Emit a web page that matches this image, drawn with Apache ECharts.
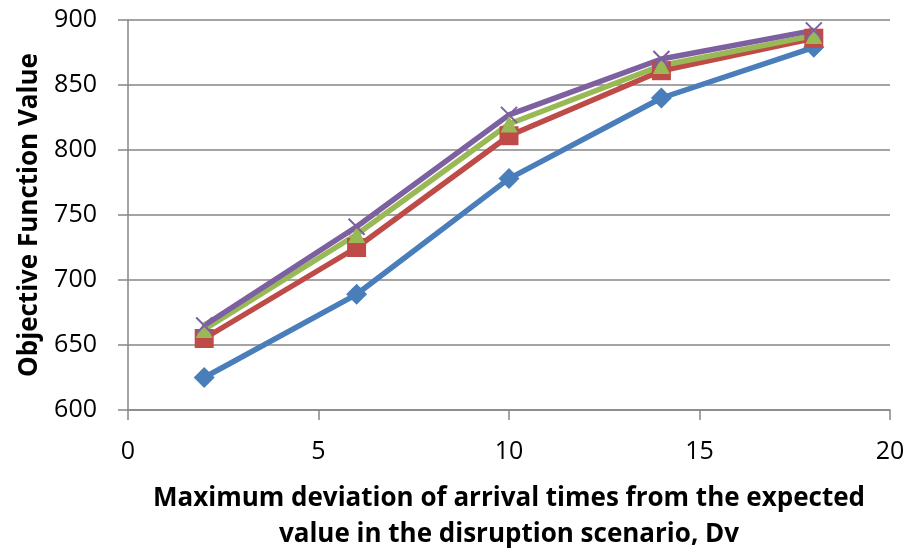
<!DOCTYPE html>
<html><head><meta charset="utf-8">
<script src="https://cdn.jsdelivr.net/npm/echarts@6/dist/echarts.min.js"></script>
<style>html,body{margin:0;padding:0;background:#fff}#c{width:907px;height:553px}</style>
</head><body><div id="c"></div>
<script>
const xValues = [2, 6, 10, 14, 18];
const seriesBlue = [625, 689, 778, 840, 879];
const seriesRed = [655, 725, 811, 861, 886];
const seriesGreen = [662, 735, 820, 865, 888];
const seriesPurple = [665, 741, 827, 870, 892];
const xTitle = 'Maximum deviation of arrival times from the expected\nvalue in the disruption scenario, Dv';
const yTitle = 'Objective Function Value';

const font = '"Open Sans", "Noto Sans", sans-serif';
function pairs(vals){ return xValues.map((x,i)=>[x, vals[i]]); }
function mk(name, vals, color, symbol, size, extra){
  return Object.assign({
    name, type:'line', data: pairs(vals), symbol, symbolSize: size,
    lineStyle:{color, width:5.5}, itemStyle:{color}, showSymbol:true, animation:false
  }, extra||{});
}
const chart = echarts.init(document.getElementById('c'));
chart.setOption({
  animation:false,
  grid:{left:128, right:17, top:20, bottom:143, containLabel:false, outerBoundsMode:'none'},
  xAxis:{type:'value', min:0, max:20, interval:5,
    axisLine:{show:true, lineStyle:{color:'#868686', width:1.5}},
    axisTick:{show:true, length:10, lineStyle:{color:'#868686', width:1.5}},
    splitLine:{show:false},
    axisLabel:{color:'#000', fontSize:25, fontFamily:font, margin:29},
    name:xTitle, nameLocation:'middle', nameGap:71,
    nameTextStyle:{color:'#000', fontSize:26, fontWeight:'bold', fontFamily:font, lineHeight:36}
  },
  yAxis:{type:'value', min:600, max:900, interval:50,
    axisLine:{show:true, lineStyle:{color:'#868686', width:1.5}},
    axisTick:{show:true, length:10, lineStyle:{color:'#868686', width:1.5}},
    splitLine:{show:true, lineStyle:{color:'#868686', width:1.5}},
    axisLabel:{color:'#000', fontSize:25, fontFamily:font, margin:31},
    name:yTitle, nameLocation:'middle', nameGap:85, nameRotate:90,
    nameTextStyle:{color:'#000', fontSize:26, fontWeight:'bold', fontFamily:font}
  },
  series:[
    mk('S1', seriesBlue, '#4A7EBB', 'diamond', 21),
    mk('S2', seriesRed, '#BE4B48', 'rect', 19),
    mk('S3', seriesGreen, '#98B954', 'triangle', 17),
    mk('S4', seriesPurple, '#7D60A0', 'path://M0,0L10,10M10,0L0,10', 16,
      {itemStyle:{color:'#7D60A0', borderColor:'#7D60A0', borderWidth:2}})
  ]
});
</script></body></html>
